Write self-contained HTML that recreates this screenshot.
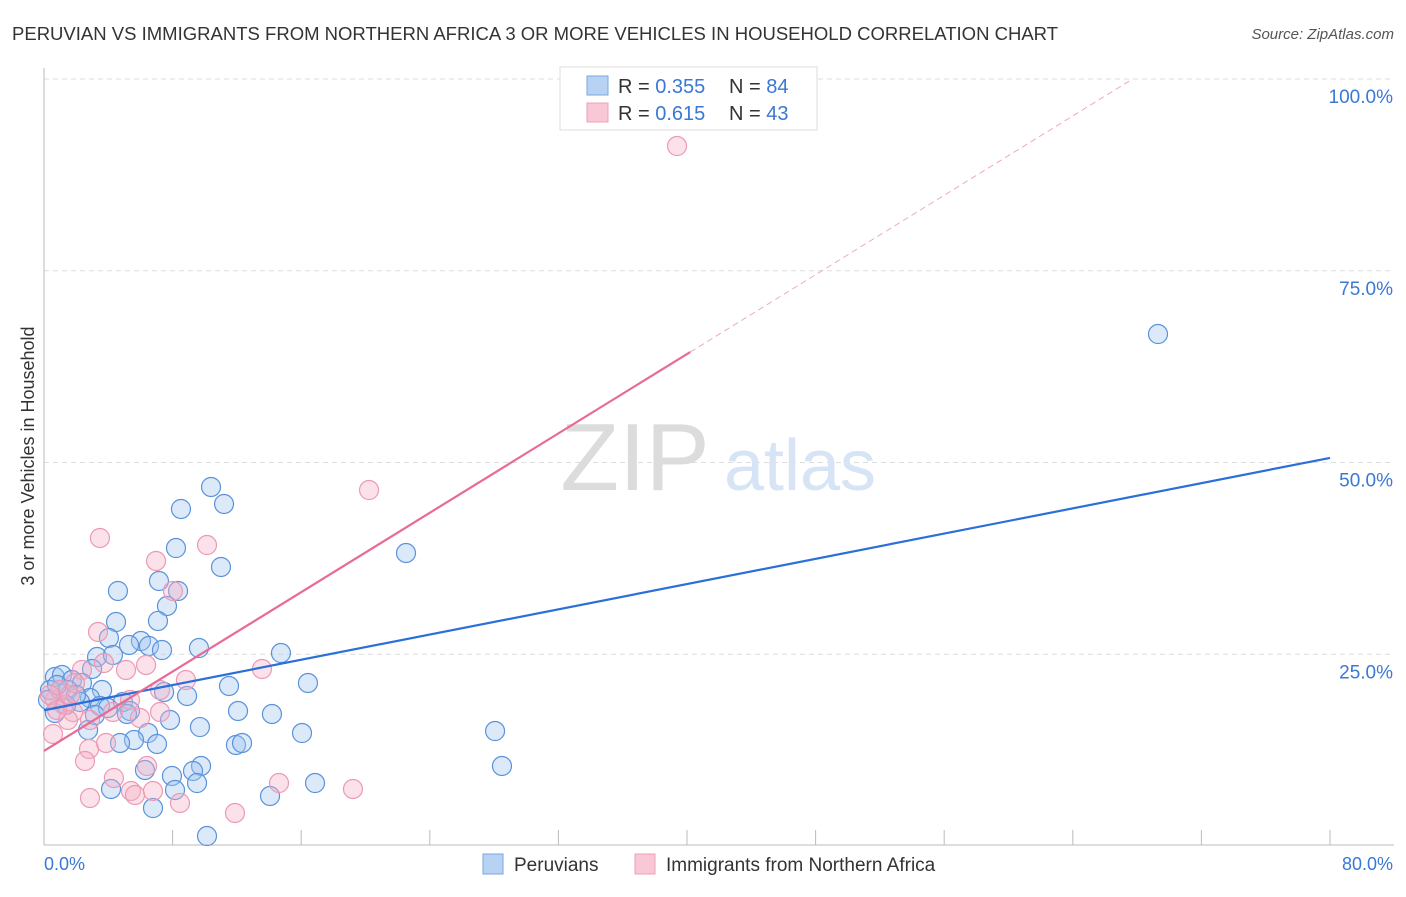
<!DOCTYPE html>
<html><head><meta charset="utf-8"><style>
body{margin:0;background:#fff;font-family:"Liberation Sans",sans-serif}
svg text{font-family:"Liberation Sans",sans-serif}
</style></head><body>
<svg width="1406" height="892" viewBox="0 0 1406 892">
<text x="12" y="40" font-size="18" fill="#333" textLength="1046" lengthAdjust="spacingAndGlyphs">PERUVIAN VS IMMIGRANTS FROM NORTHERN AFRICA 3 OR MORE VEHICLES IN HOUSEHOLD CORRELATION CHART</text>
<text x="1394" y="39" font-size="15" fill="#555" font-style="italic" text-anchor="end">Source: ZipAtlas.com</text>
<g id="grid"></g>
<text x="635" y="490" font-size="96" fill="#dcdcdc" font-family="Liberation Serif" text-anchor="middle">ZIP</text>
<text x="800" y="490" font-size="72" fill="#d6e4f5" text-anchor="middle">atlas</text>
<g id="points"></g>
<g id="lines"></g>
<text transform="translate(34,456) rotate(-90)" font-size="18" fill="#333" text-anchor="middle">3 or more Vehicles in Household</text>
<text x="44" y="870" font-size="18" fill="#3a78d4">0.0%</text>
<text x="1393" y="870" font-size="18" fill="#3a78d4" text-anchor="end">80.0%</text>
<g>
<rect x="560" y="67" width="257" height="63" fill="#fff" stroke="#ddd"/>
<rect x="587" y="76" width="21" height="19" fill="#b8d2f4" stroke="#7aa6e0"/>
<rect x="587" y="103" width="21" height="19" fill="#f8c8d6" stroke="#eca0b8"/>
<text x="618" y="93" font-size="20" fill="#333">R = <tspan fill="#3a78d4">0.355</tspan></text>
<text x="729" y="93" font-size="20" fill="#333">N = <tspan fill="#3a78d4">84</tspan></text>
<text x="618" y="120" font-size="20" fill="#333">R = <tspan fill="#3a78d4"> 0.615</tspan></text>
<text x="729" y="120" font-size="20" fill="#333">N = <tspan fill="#3a78d4">43</tspan></text>
</g>
<g>
<rect x="483" y="854" width="20" height="20" fill="#b8d2f4" stroke="#7aa6e0"/>
<text x="514" y="871" font-size="19" fill="#333">Peruvians</text>
<rect x="635" y="854" width="20" height="20" fill="#f8c8d6" stroke="#eca0b8"/>
<text x="666" y="871" font-size="19" fill="#333">Immigrants from Northern Africa</text>
</g>
</svg>
<script>
const yTicks=[25,50,75,100];
const yTickLabels=["25.0%","50.0%","75.0%","100.0%"];
const xTicks=[8,16,24,32,40,48,56,64,72,80];
const bluePx=[[211,487],[224,504],[181,509],[176,548],[406,553],[221,567],[159,581],[118,591],[178,591],[167,606],[158,621],[116,622],[109,638],[141,641],[129,645],[149,646],[162,650],[199,648],[97,657],[113,655],[281,653],[92,669],[229,686],[308,683],[55,677],[62,675],[72,680],[82,683],[50,690],[60,690],[68,690],[102,690],[164,692],[187,696],[90,698],[80,702],[123,702],[100,706],[108,708],[130,711],[127,714],[238,711],[272,714],[55,713],[170,720],[200,727],[302,733],[88,730],[148,733],[134,740],[157,744],[120,743],[236,745],[242,743],[495,731],[502,766],[201,766],[193,771],[172,776],[145,770],[315,783],[111,789],[197,783],[175,790],[270,796],[153,808],[207,836],[48,700],[66,705],[76,695],[95,715],[57,685],[1158,334]];
const pinkPx=[[677,146],[369,490],[100,538],[207,545],[156,561],[173,591],[98,632],[104,663],[146,665],[126,670],[262,669],[186,680],[82,670],[55,700],[64,705],[73,712],[68,720],[90,720],[140,718],[160,712],[130,700],[113,712],[53,734],[89,749],[106,743],[85,761],[147,766],[114,778],[90,798],[131,791],[135,795],[153,791],[180,803],[279,783],[353,789],[235,813],[60,690],[70,695],[50,695],[75,683],[57,710],[160,690]];
const blueX=bluePx.map(p=>+((p[0]-44)/1286*80).toFixed(2));
const blueY=bluePx.map(p=>+((846-p[1])/7.67).toFixed(2));
const pinkX=pinkPx.map(p=>+((p[0]-44)/1286*80).toFixed(2));
const pinkY=pinkPx.map(p=>+((846-p[1])/7.67).toFixed(2));
const blueTrend=[17.7,50.6];
const pinkTrend=[12.4,64.4];
const pinkTrendEndX=40.2;
function sx(v){return 44+v/80*1286;}
function sy(v){return 846-v*7.67;}
const NS="http://www.w3.org/2000/svg";
function mk(t,a,p){const e=document.createElementNS(NS,t);for(const k in a)e.setAttribute(k,a[k]);p.appendChild(e);return e;}
const grid=document.getElementById('grid');
yTicks.forEach((t,i)=>{
 const l=mk('line',{x1:44,x2:1394,y1:sy(t),y2:sy(t),stroke:'#ddd','stroke-dasharray':'5,4'},grid);
 
 
 const tx=mk('text',{x:1393,y:sy(t)+24,'font-size':19,fill:'#3a78d4','text-anchor':'end'},grid);
 tx.textContent=yTickLabels[i];
 
 
});
const ax=mk('line',{x1:44,x2:1394,y1:845,y2:845,stroke:'#bbb'},grid);


const ay=mk('line',{x1:44,x2:44,y1:68,y2:845,stroke:'#bbb'},grid);


xTicks.forEach(t=>{
 const l=mk('line',{x1:sx(t),x2:sx(t),y1:830,y2:845,stroke:'#bbb'},grid);
 
 
});
const pts=document.getElementById('points');
blueX.forEach((x,i)=>{
 const c=mk('circle',{cx:sx(x),cy:sy(blueY[i]),r:9.5,fill:'rgba(160,196,240,0.38)',stroke:'#5a92dc','stroke-width':1.2},pts);
 
 
});
pinkX.forEach((x,i)=>{
 const c=mk('circle',{cx:sx(x),cy:sy(pinkY[i]),r:9.5,fill:'rgba(245,175,198,0.38)',stroke:'#ec9ab4','stroke-width':1.2},pts);
 
 
});
const ln=document.getElementById('lines');
const bl=mk('line',{x1:sx(0),y1:sy(blueTrend[0]),x2:sx(80),y2:sy(blueTrend[1]),stroke:'#2a70d8','stroke-width':2.2},ln);


const slope=(pinkTrend[1]-pinkTrend[0])/pinkTrendEndX;
const pl=mk('line',{x1:sx(0),y1:sy(pinkTrend[0]),x2:sx(pinkTrendEndX),y2:sy(pinkTrend[1]),stroke:'#e86a96','stroke-width':2.2},ln);


const xe=(100-pinkTrend[0])/slope;
const pd=mk('line',{x1:sx(pinkTrendEndX),y1:sy(pinkTrend[1]),x2:sx(xe),y2:sy(100),stroke:'#eeaac0','stroke-width':1,'stroke-dasharray':'6,4'},ln);


</script>
</body></html>
